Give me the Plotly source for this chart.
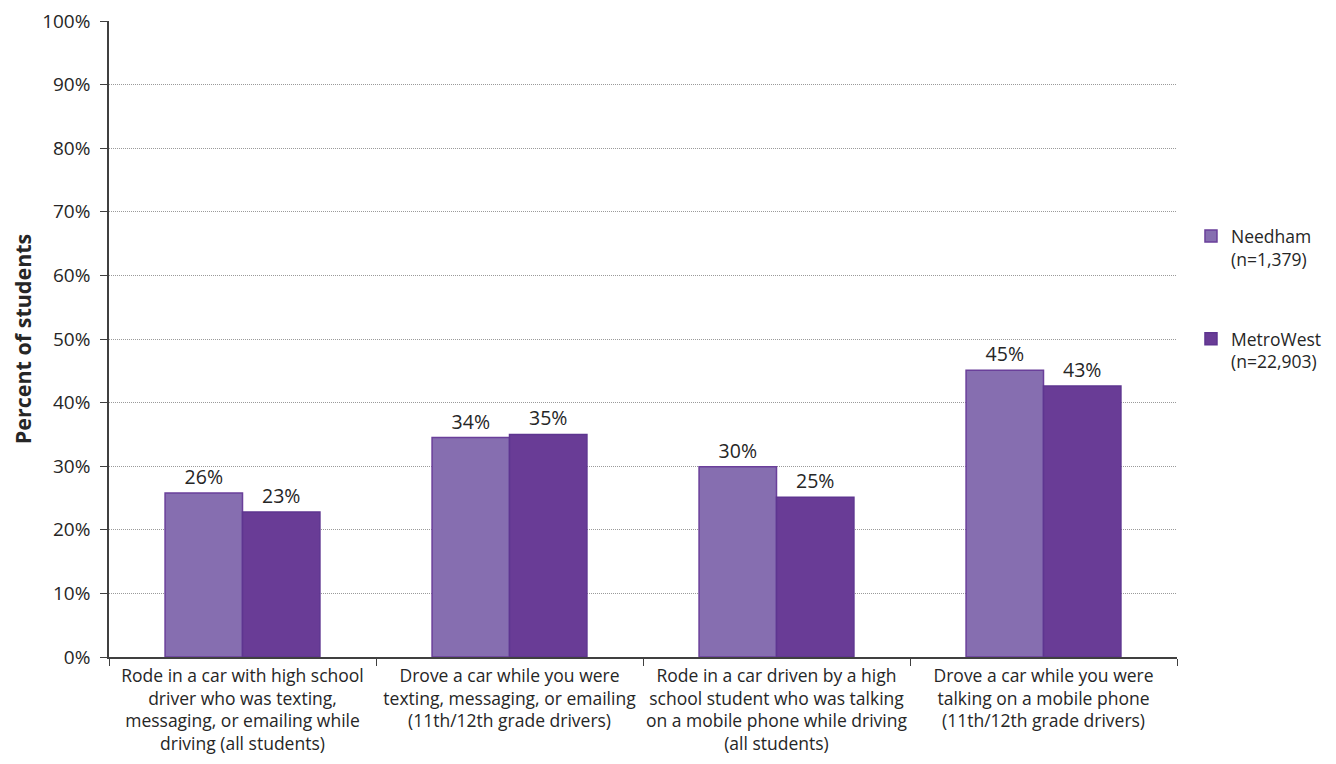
import plotly.graph_objects as go

categories = [
    "Rode in a car with high school<br>driver who was texting,<br>messaging, or emailing while<br>driving (all students)",
    "Drove a car while you were<br>texting, messaging, or emailing<br>(11th/12th grade drivers)",
    "Rode in a car driven by a high<br>school student who was talking<br>on a mobile phone while driving<br>(all students)",
    "Drove a car while you were<br>talking on a mobile phone<br>(11th/12th grade drivers)",
]
needham = [25.8, 34.5, 29.9, 45.1]
needham_labels = ["26%", "34%", "30%", "45%"]
metrowest = [22.8, 35.0, 25.1, 42.6]
metrowest_labels = ["23%", "35%", "25%", "43%"]
y_ticks = [0, 10, 20, 30, 40, 50, 60, 70, 80, 90, 100]
y_ticktext = [f"{v}%" for v in y_ticks]

FONT = "Open Sans, Liberation Sans, sans-serif"

fig = go.Figure()
fig.add_trace(go.Bar(
    x=categories, y=needham, name="Needham<br>(n=1,379)",
    marker=dict(color="#866eb0", line=dict(color="#6a3f9a", width=1.5)),
    text=needham_labels, textposition="outside", cliponaxis=False,
    textfont=dict(size=19.5, color="#262626"), legend="legend",
))
fig.add_trace(go.Bar(
    x=categories, y=metrowest, name="MetroWest<br>(n=22,903)",
    marker=dict(color="#693c96", line=dict(color="#5e3590", width=1.5)),
    text=metrowest_labels, textposition="outside", cliponaxis=False,
    textfont=dict(size=19.5, color="#262626"), legend="legend2",
))

# page body has an 8px margin, so the figure is sized to fit the 1336x764 window
fig.update_layout(
    width=1320, height=748,
    margin=dict(l=101, r=151, t=13, b=99),
    paper_bgcolor="white", plot_bgcolor="white",
    font=dict(family=FONT, size=17, color="#262626"),
    barmode="group", bargap=0.42, bargroupgap=0,
    legend=dict(x=0.8962, y=0.719, xref="container", yref="container",
                xanchor="left", yanchor="top", valign="top",
                font=dict(size=17.5, color="#262626"), bgcolor="rgba(0,0,0,0)",
                itemwidth=30),
    legend2=dict(x=0.8962, y=0.5816, xref="container", yref="container",
                 xanchor="left", yanchor="top", valign="top",
                 font=dict(size=17.5, color="#262626"), bgcolor="rgba(0,0,0,0)",
                 itemwidth=30),
    showlegend=True,
)
fig.update_yaxes(
    range=[0, 100], tickvals=y_ticks, ticktext=y_ticktext,
    showgrid=True, gridcolor="#9a9a9a", griddash="1px,1px", gridwidth=1,
    showline=True, linecolor="#404040", linewidth=1.5,
    ticks="outside", ticklen=7, tickcolor="#404040", ticklabeloverflow="allow",
    ticklabelstandoff=6,
    tickfont=dict(size=19), zeroline=False, automargin=False,
    title=dict(text="<b>Percent of students</b>", font=dict(size=21.5), standoff=12),
)
fig.update_xaxes(
    showline=True, linecolor="#404040", linewidth=1.5,
    ticks="outside", ticklen=7, tickcolor="#404040", tickson="boundaries",
    ticklabelstandoff=2,
    tickfont=dict(size=17.5), tickangle=0, showgrid=False, automargin=False,
)

fig.write_html("out.html")
